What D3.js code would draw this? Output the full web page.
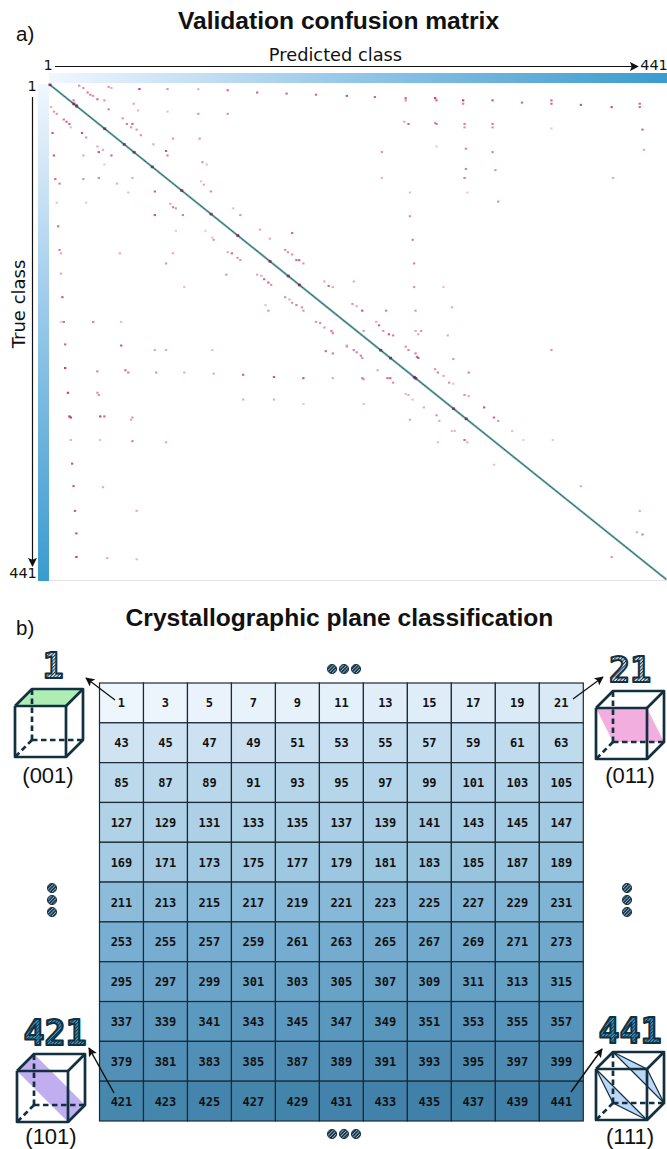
<!DOCTYPE html>
<html>
<head>
<meta charset="utf-8">
<script src="https://cdn.jsdelivr.net/npm/d3@7"></script>
<style>
  html, body { margin: 0; padding: 0; background: #fff; }
  svg { display: block; }
  text { fill: #111; }
</style>
</head>
<body>
<div id="chart-container"></div>
<script>
// classes run 1..441 on both axes
var classes = d3.range(1, 442);

// misclassified cells: [true class, predicted class, strength]
var confusions = [
  [2,22,.5],[4,25,.5],[8,28,.6],[10,30,.6],[11,32,.5],[14,35,.7],[15,40,.5],[3,43,.5],[4,45,.4],[5,65,.9],[5,85,.5],[5,107,.35],
  [6,128,.7],[8,149,.7],[9,170,.7],[10,191,.7],[11,213,.8],[12,233,.7],[13,255,.7],[15,255,.5],[13,276,.9],[15,277,.7],[15,296,.9],[18,296,.6],
  [15,317,.8],[17,338,.7],[15,359,.7],[18,359,.7],[19,380,.8],[21,402,.8],[18,422,.7],[21,422,.7],
  [34,254,.4],[36,257,.7],[35,276,.5],[36,277,.6],[36,297,.6],[39,297,.5],[36,317,.6],[39,317,.5],[40,359,.25],[41,424,.7],
  [61,238,.5],[56,277,.25],[58,298,.6],[61,317,.6],[59,425,.4],[76,298,.6],[77,319,.5],[84,238,.35],[84,297,.6],[84,403,.4],
  [97,258,.3],[97,299,.25],[105,321,.5],[118,258,.5],[139,260,.6],
  [21,2,.4],[25,4,.5],[27,6,.5],[15,18,.6],[19,20,.7],[23,43,.6],[18,61,.4],[24,64,.35],[25,85,.3],[27,107,.5],[27,128,.5],
  [31,53,.5],[36,56,.6],[36,60,.7],[39,59,.5],[41,63,.5],[46,66,.5],
  [32,11,.6],[34,13,.7],[36,15,.7],[39,16,.3],[44,3,.8],[44,24,.8],[48,27,.5],[49,89,.5],[49,108,.5],[54,75,.4],[56,35,.4],[59,39,.4],[61,36,.8],
  [60,84,.8],[64,4,.8],[64,25,.4],[64,45,.7],[64,85,.6],[72,40,.25],[70,110,.5],[72,113,.3],
  [85,5,.7],[89,8,.6],[85,25,.5],[84,36,.6],[84,60,.4],[89,49,.4],[87,109,.3],[90,111,.4],[96,116,.5],[96,76,.7],[97,57,.3],
  [106,6,.3],[106,27,.25],[117,76,.8],[107,87,.4],[110,89,.6],[111,91,.5],[117,96,.6],[111,132,.3],[117,137,.5],[127,7,.7],[131,91,.25],[131,112,.25],
  [137,117,.3],[139,118,.5],[130,151,.4],[138,158,.4],[133,174,.7],
  [148,8,.6],[151,9,.4],[151,51,.4],[151,89,.4],[160,84,.5],[150,128,.4],[151,131,.7],[155,135,.5],[157,137,.5],[148,169,.5],[150,171,.5],[152,174,.5],
  [157,177,.7],[157,179,.7],[160,182,.5],[169,9,.4],[170,127,.5],[170,149,.4],[171,152,.4],[174,154,.7],[177,157,.7],[179,159,.5],[181,97,.3],
  [176,197,.4],[180,200,.7],[181,203,.4],[190,10,.8],[190,169,.5],[192,172,.4],[195,174,.5],[197,177,.6],[199,181,.5],[202,182,.5],[197,155,.3],[202,157,.5],
  [212,9,.25],[212,11,.7],[212,32,.6],[212,52,.3],[212,191,.5],[213,194,.5],[217,197,.5],[220,202,.6],[222,203,.6],
  [232,12,.7],[233,52,.8],[237,76,.4],[237,84,.4],[237,117,.3],[238,198,.7],[240,203,.6],[233,213,.4],
  [253,12,.9],[256,35,.6],[255,55,.7],[257,57,.6],[257,77,.5],[257,97,.4],[258,118,.4],[259,139,.7],[261,161,.8],[262,182,.8],[262,203,.4],
  [275,14,.9],[275,35,.5],[277,36,.5],[281,139,.4],[281,161,.4],[285,182,.25],
  [296,15,.9],[297,16,.9],[296,37,.9],[296,40,.7],[297,60,.5],[299,59,.4],[317,16,.4],[317,37,.3],[318,60,.6],[319,84,.4],
  [338,17,.8],[358,18,.8],[359,39,.4],[380,19,.8],[380,63,.4],[400,20,.8],[421,20,.9],[422,42,.4],[423,63,.35],
  [176,218,.4],[181,282,.3],[202,262,.5],[202,241,.6],[202,224,.8],[196,217,.5],[198,220,.4],[199,288,.4],[160,261,.6],[181,261,.5],
  [212,234,.4],[215,236,.7],[220,239,.5],[223,243,.8],[224,246,.6],[220,225,.5],[220,262,.4],[220,266,.5],[223,264,.4],[224,285,.4],
  [234,255,.5],[237,257,.6],[240,262,.6],[243,263,.7],[244,264,.8],[245,289,.5],[237,359,.5],
  [234,213,.4],[237,218,.6],[239,220,.6],[242,223,.6],[244,224,.5],[255,235,.4],[262,224,.6],[263,225,.5],[262,242,.7],[262,244,.7],[266,246,.5],
  [254,276,.5],[257,278,.6],[260,282,.4],[257,300,.6],[266,286,.5],[267,289,.3],
  [276,255,.3],[277,257,.4],[281,260,.3],[277,297,.5],[278,300,.4],[285,225,.3],[288,268,.4],[288,311,.8],[295,277,.5],[300,279,.4],[297,318,.7],[300,321,.5],
  [299,258,.4],[309,288,.3],[309,290,.3],[309,331,.3],[317,339,.25],[317,360,.25],[317,297,.7],[319,299,.4],[319,278,.3],[339,318,.3],[358,380,.4],
  [380,422,.4],[399,420,.4],[401,424,.6],[421,402,.5]
];

// darker spots sitting on the diagonal
var diagonalHot = [1, 18, 20, 40, 54, 61, 74, 95, 116, 135, 158, 171, 179, 237, 244, 261, 262, 289, 298];

// bottom table: first class of each row, 21 classes per row, every second one printed
var rowStarts = [1, 43, 85, 127, 169, 211, 253, 295, 337, 379, 421];
var colSteps = [0, 2, 4, 6, 8, 10, 12, 14, 16, 18, 20];
var tableStops = [1, 21, 43, 63, 85, 105, 127, 147, 169, 189, 211, 231, 253, 273, 295, 315, 337, 357, 379, 399, 421, 441];
var tableColors = ["#eef6fd", "#d9e9f6", "#cfe3f2", "#bedaed", "#bcd8eb", "#aed1e7", "#b0d2e7", "#a2cae3", "#a4cbe3", "#95c2dd",
  "#8dbcdb", "#80b4d5", "#78aed1", "#70a8cc", "#6ca5c9", "#639ec3", "#5e9ac0", "#5693ba", "#5390b7", "#4b89b1", "#4687ae", "#3f7fa7"];

var barStops = [0, .25, .5, .75, 1];
var barColors = ["#f0f7ff", "#c3def3", "#92c6e7", "#66b0da", "#3a9ccf"];

var cubeLabels = ["(001)", "(011)", "(101)", "(111)"];
var cubeClasses = ["1", "21", "421", "441"];

var svg = d3.select("#chart-container").append("svg").attr("width", 667).attr("height", 1149);
var defs = svg.append("defs");

function addGradient(id, x2, y2) {
  var g = defs.append("linearGradient").attr("id", id).attr("x1", 0).attr("y1", 0).attr("x2", x2).attr("y2", y2);
  barStops.forEach(function (s, i) { g.append("stop").attr("offset", s).attr("stop-color", barColors[i]); });
}
addGradient("barH", 1, 0);
addGradient("barV", 0, 1);

function addHatch(id, bg, ink, w) {
  var p = defs.append("pattern").attr("id", id).attr("width", 2.4).attr("height", 2.4)
    .attr("patternUnits", "userSpaceOnUse").attr("patternTransform", "rotate(45)");
  p.append("rect").attr("width", 2.4).attr("height", 2.4).attr("fill", bg);
  p.append("rect").attr("width", w).attr("height", 2.4).attr("fill", ink);
}
addHatch("hatchGrey", "#eef1f3", "#17364a", 1.1);
addHatch("hatchBlue", "#3f9fd0", "#12303f", 1.1);
addHatch("hatchDot", "#17364a", "#a9c2d4", .7);

// the matrix in the source is a scaled-down bitmap, so the marks are slightly soft
defs.append("filter").attr("id", "soft").attr("x", "-2%").attr("y", "-2%").attr("width", "104%").attr("height", "104%")
  .append("feGaussianBlur").attr("stdDeviation", .4);

defs.append("marker").attr("id", "head").attr("viewBox", "0 0 10 10").attr("refX", 9).attr("refY", 5)
  .attr("markerWidth", 9).attr("markerHeight", 9).attr("markerUnits", "userSpaceOnUse").attr("orient", "auto")
  .append("path").attr("d", "M0,0L10,5L0,10L2,5Z").attr("fill", "#111");

function addText(txt, x, y, size, family, weight, anchor) {
  return svg.append("text").attr("x", x).attr("y", y).attr("font-size", size).attr("font-family", family)
    .attr("font-weight", weight || "normal").attr("text-anchor", anchor || "middle").text(txt);
}
function addArrow(x1, y1, x2, y2, w) {
  svg.append("line").attr("x1", x1).attr("y1", y1).attr("x2", x2).attr("y2", y2)
    .attr("stroke", "#111").attr("stroke-width", w).attr("marker-end", "url(#head)");
}

// ---- a) confusion matrix
var x = d3.scaleBand().domain(classes).range([49, 667]);
var y = d3.scaleBand().domain(classes).range([84, 580]);

addText("Validation confusion matrix", 338.5, 29, 24.6, "Liberation Sans", "bold");
addText("a)", 16, 41, 20.5, "Liberation Sans", "normal", "start");
addText("Predicted class", 335.5, 61, 17.8, "DejaVu Sans");
addText("1", 48, 70, 14.5, "DejaVu Sans");
addText("441", 654, 70, 14.5, "DejaVu Sans");
addText("1", 32, 91, 14.5, "DejaVu Sans");
addText("441", 23, 578, 14.5, "DejaVu Sans");
addText("True class", 0, 0, 18, "DejaVu Sans").attr("transform", "translate(25,304) rotate(-90)");
addArrow(55, 66.5, 638, 66.5, 1.2);
addArrow(32.5, 97, 32.5, 566, 1.2);

svg.append("rect").attr("x", 49).attr("y", 73).attr("width", 618).attr("height", 10).attr("fill", "url(#barH)");
svg.append("rect").attr("x", 38).attr("y", 84).attr("width", 11).attr("height", 497).attr("fill", "url(#barV)");
svg.append("line").attr("x1", 49).attr("x2", 667).attr("y1", 580.5).attr("y2", 580.5).attr("stroke", "#e4e4e4");

var matrix = svg.append("g").attr("filter", "url(#soft)");
matrix.append("g").selectAll("rect").data(confusions).enter().append("rect")
  .attr("x", function (d) { return x(d[1]) - .4; })
  .attr("y", function (d) { return y(d[0]) - .4; })
  .attr("width", x.bandwidth() + .9)
  .attr("height", y.bandwidth() + .9)
  .attr("fill", "#c02563")
  .attr("opacity", function (d) { return d[2]; });

var diagLine = d3.line()
  .x(function (d) { return x(d) + x.bandwidth() / 2; })
  .y(function (d) { return y(d) + y.bandwidth() / 2; });
matrix.append("path").attr("d", diagLine(classes)).attr("fill", "none").attr("stroke", "#86b9b8").attr("stroke-width", 2.3);
matrix.append("path").attr("d", diagLine(classes)).attr("fill", "none").attr("stroke", "#265f66").attr("stroke-width", 1);
matrix.append("g").selectAll("rect").data(diagonalHot).enter().append("rect")
  .attr("x", function (d) { return x(d) - .5; })
  .attr("y", function (d) { return y(d) - .5; })
  .attr("width", 3).attr("height", 2.6)
  .attr("fill", "#7a1a55").attr("opacity", .8);

// ---- b) class table
addText("Crystallographic plane classification", 339.5, 626, 24.6, "Liberation Sans", "bold");
addText("b)", 16, 635, 20.5, "Liberation Sans", "normal", "start");

var tableX = d3.scaleBand().domain(colSteps).range([99.5, 583.3]);
var tableY = d3.scaleBand().domain(rowStarts).range([683, 1121]);
var tableColor = d3.scaleLinear().domain(tableStops).range(tableColors);

var cells = [];
rowStarts.forEach(function (r) { colSteps.forEach(function (c) { cells.push({ row: r, col: c, id: r + c }); }); });

var cell = svg.append("g").selectAll("g").data(cells).enter().append("g");
cell.append("rect")
  .attr("x", function (d) { return tableX(d.col); })
  .attr("y", function (d) { return tableY(d.row); })
  .attr("width", tableX.bandwidth())
  .attr("height", tableY.bandwidth())
  .attr("fill", function (d) { return tableColor(d.id); })
  .attr("stroke", "#1b2b36").attr("stroke-width", 1.2);
cell.append("text")
  .attr("x", function (d) { return tableX(d.col) + tableX.bandwidth() / 2; })
  .attr("y", function (d) { return tableY(d.row) + tableY.bandwidth() / 2 + 4.5; })
  .attr("text-anchor", "middle")
  .attr("font-family", "DejaVu Sans Mono")
  .attr("font-weight", "bold")
  .attr("font-size", 12)
  .text(function (d) { return d.id; });

// ---- cube sketches
function corners(fx, fy, s, d) {
  return {
    ftl: [fx, fy], ftr: [fx + s, fy], fbr: [fx + s, fy + s], fbl: [fx, fy + s],
    btl: [fx + d, fy - d], btr: [fx + s + d, fy - d], bbr: [fx + s + d, fy + s - d], bbl: [fx + d, fy + s - d]
  };
}
function drawCube(fx, fy, color, planes) {
  var c = corners(fx, fy, 51, 17);
  var ink = "#12303f";
  planes.forEach(function (pl) {
    svg.append("path").attr("d", "M" + pl.map(function (k) { return c[k].join(","); }).join("L") + "Z")
      .attr("fill", color).attr("stroke", planes.length > 1 ? ink : "none").attr("stroke-width", 1.2);
  });
  [["bbl", "btl"], ["bbl", "bbr"], ["bbl", "fbl"]].forEach(function (e) {
    svg.append("line").attr("x1", c[e[0]][0]).attr("y1", c[e[0]][1]).attr("x2", c[e[1]][0]).attr("y2", c[e[1]][1])
      .attr("stroke", ink).attr("stroke-width", 2.7).attr("stroke-dasharray", "5.5 3.5");
  });
  var solid = [["ftl", "ftr", "fbr", "fbl", "ftl"], ["ftl", "btl", "btr", "bbr", "fbr"], ["ftr", "btr"]];
  solid.forEach(function (e) {
    svg.append("path").attr("d", "M" + e.map(function (k) { return c[k].join(","); }).join("L"))
      .attr("fill", "none").attr("stroke", ink).attr("stroke-width", 2.7).attr("stroke-linejoin", "round");
  });
}
drawCube(15, 706, "#aeeeb4", [["btl", "btr", "ftr", "ftl"]]);
drawCube(596, 708, "#f3aee0", [["ftl", "ftr", "bbr", "bbl"]]);
drawCube(17, 1071, "#c0aef0", [["ftl", "btl", "bbr", "fbr"]]);
drawCube(596, 1069, "#bcd7f6", [["btl", "ftr", "bbr"], ["ftl", "bbl", "fbr"]]);

addText(cubeLabels[0], 48, 783, 22, "Liberation Sans");
addText(cubeLabels[1], 630, 783, 22, "Liberation Sans");
addText(cubeLabels[2], 51, 1144, 22, "Liberation Sans");
addText(cubeLabels[3], 630, 1144, 22, "Liberation Sans");

function bigClass(txt, cx, by, hatch) {
  addText(txt, cx, by, 35, "DejaVu Sans Mono", "bold")
    .style("fill", "url(#" + hatch + ")")
    .attr("stroke", "#12303f").attr("stroke-width", 2).attr("stroke-linejoin", "round");
}
bigClass(cubeClasses[0], 53, 678, "hatchGrey");
bigClass(cubeClasses[1], 630, 682, "hatchGrey");
bigClass(cubeClasses[2], 55, 1045, "hatchBlue");
bigClass(cubeClasses[3], 630, 1043, "hatchBlue");

addArrow(115, 700, 86, 678, 1.3);
addArrow(573, 699, 603, 677, 1.3);
addArrow(114, 1093, 89, 1048, 1.5);
addArrow(571, 1092, 602, 1049, 1.5);

// "..." marks around the table
function dots(list) {
  svg.append("g").selectAll("circle").data(list).enter().append("circle")
    .attr("cx", function (d) { return d[0]; }).attr("cy", function (d) { return d[1]; })
    .attr("r", 4.6).attr("fill", "url(#hatchDot)").attr("stroke", "#17364a").attr("stroke-width", 1);
}
dots([[332, 669], [344, 669], [356, 669]]);
dots([[332, 1134], [344, 1134], [356, 1134]]);
dots([[52, 888], [52, 900], [52, 912]]);
dots([[627, 888], [627, 900], [627, 912]]);
</script>
</body>
</html>
